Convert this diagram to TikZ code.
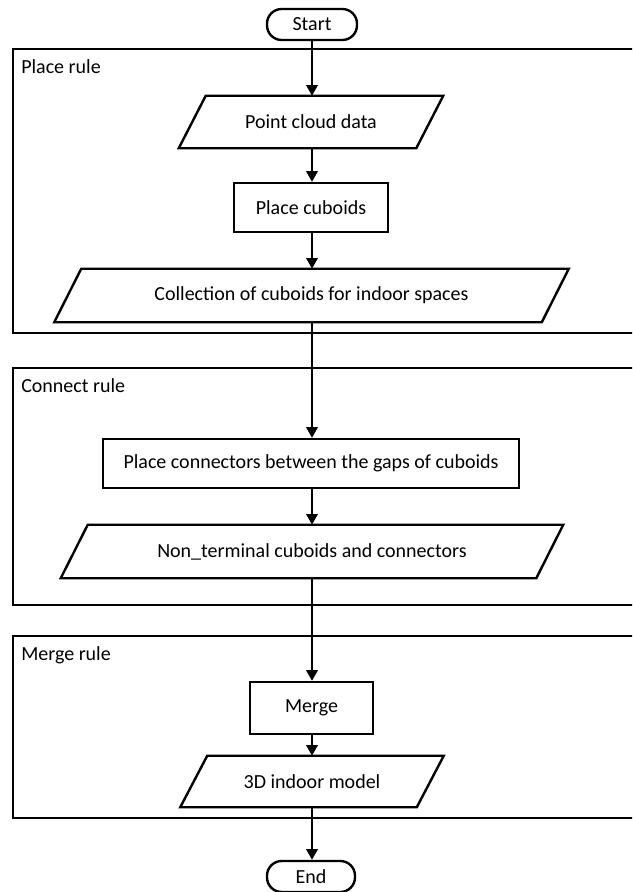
\documentclass[tikz,border=0pt]{standalone}
\usepackage{fontspec}
\setmainfont{Carlito}
\usetikzlibrary{arrows.meta,calc}

\tikzset{
  lw/.style={line width=1.8pt},
  group/.style={lw, draw=black},
  grouplabel/.style={anchor=west, inner sep=0pt, font=\fontsize{15}{18}\selectfont},
  procbox/.style={lw, draw=black, fill=white, rectangle, inner sep=0pt,
    font=\fontsize{15}{18}\selectfont},
  databox/.style={rectangle, inner sep=0pt, font=\fontsize{15}{18}\selectfont},
  terminal/.style={lw, draw=black, fill=white, rectangle, rounded corners=11pt,
    inner sep=0pt, font=\fontsize{15}{18}\selectfont},
  flow/.style={lw, -{Triangle[length=8pt,width=8.5pt]}},
}

% slanted input/output box drawn round a named node
\newcommand{\slantbox}[1]{%
  \draw[lw, fill=white] ($(#1.south west)+(-13.5,0)$) -- ($(#1.north west)+(13.5,0)$)
    -- ($(#1.north east)+(13.5,0)$) -- ($(#1.south east)+(-13.5,0)$) -- cycle;}

\begin{document}
\begin{tikzpicture}[x=0.75pt,y=-0.75pt]
  \useasboundingbox (0,0) rectangle (632,892);
  \clip (0,0) rectangle (632,892);

  % rule groups
  \draw[group] (13,49) rectangle (660,333);
  \draw[group] (13,368) rectangle (660,605);
  \draw[group] (13,636) rectangle (660,818);
  \node[grouplabel] (lplace) at (21,67) {Place rule};
  \node[grouplabel] (lconnect) at (21,386) {Connect rule};
  \node[grouplabel] (lmerge) at (21,655) {Merge rule};

  % flow nodes
  \node[terminal, minimum width=90*0.75pt, minimum height=31*0.75pt] (start) at (312,24.5) {Start};

  \node[databox, minimum width=237*0.75pt, minimum height=52*0.75pt] (pcd) at (311,122) {};
  \slantbox{pcd}
  \node[databox] at (pcd) {Point cloud data};

  \node[procbox, minimum width=154*0.75pt, minimum height=49*0.75pt] (place) at (311,207.5) {Place cuboids};

  \node[databox, minimum width=487*0.75pt, minimum height=53*0.75pt] (coll) at (311.5,295.5) {};
  \slantbox{coll}
  \node[databox] at (coll) {Collection of cuboids for indoor spaces};

  \node[procbox, minimum width=416*0.75pt, minimum height=49*0.75pt] (conn) at (311,463.5) {Place connectors between the gaps of cuboids};

  \node[databox, minimum width=475*0.75pt, minimum height=53*0.75pt] (nonterm) at (312,551.5) {};
  \slantbox{nonterm}
  \node[databox] at (nonterm) {Non\_terminal cuboids and connectors};

  \node[procbox, minimum width=123*0.75pt, minimum height=52*0.75pt] (merge) at (311.5,708) {Merge};

  \node[databox, minimum width=236*0.75pt, minimum height=51*0.75pt] (model) at (312,781.5) {};
  \slantbox{model}
  \node[databox] at (model) {3D indoor model};

  \node[terminal, minimum width=88*0.75pt, minimum height=31*0.75pt] (end) at (311,876.5) {End};

  % connectors
  \draw[flow] (start.south -| 312,0) -- (pcd.north -| 312,0);
  \draw[flow] (pcd.south -| 312,0) -- (place.north -| 312,0);
  \draw[flow] (place.south -| 312,0) -- (coll.north -| 312,0);
  \draw[flow] (coll.south -| 312,0) -- (conn.north -| 312,0);
  \draw[flow] (conn.south -| 312,0) -- (nonterm.north -| 312,0);
  \draw[flow] (nonterm.south -| 312,0) -- (merge.north -| 312,0);
  \draw[flow] (merge.south -| 312,0) -- (model.north -| 312,0);
  \draw[flow] (model.south -| 312,0) -- (end.north -| 312,0);
\end{tikzpicture}
\end{document}
